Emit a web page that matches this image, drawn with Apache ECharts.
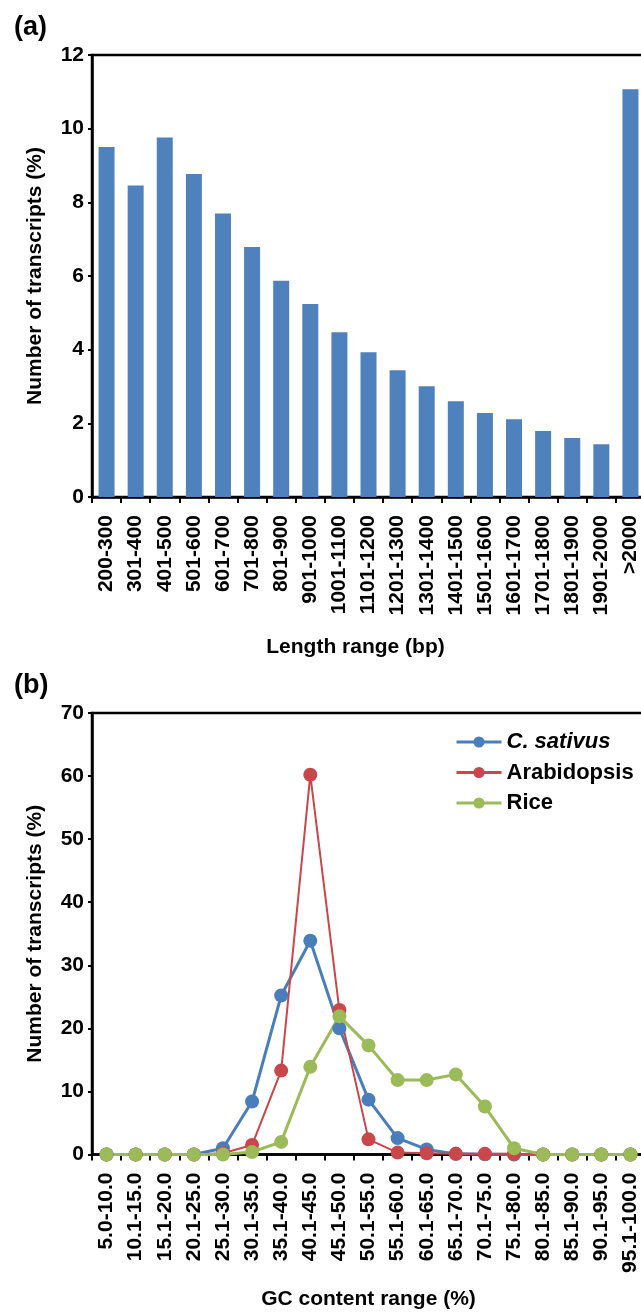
<!DOCTYPE html>
<html>
	<head>
		<meta charset="utf-8">
		<title></title>
		<style>
			html, body { margin: 0; padding: 0; background: #fff; overflow: hidden; }
			/* wider than the window on purpose: the plot's right edge is cut off like in the figure */
			#main { width: 660px; height: 1312px; }
		</style>
	</head>
	<body>
		<div id="main"></div>
		<script src="https://cdn.jsdelivr.net/npm/echarts@6/dist/echarts.min.js"></script>
		<script type="text/javascript">
			// (a) transcript length distribution
			var lengthCats = ['200-300', '301-400', '401-500', '501-600', '601-700', '701-800', '801-900', '901-1000',
				'1001-1100', '1101-1200', '1201-1300', '1301-1400', '1401-1500', '1501-1600', '1601-1700',
				'1701-1800', '1801-1900', '1901-2000', '>2000'];
			var lengthPct = [9.5, 8.46, 9.76, 8.77, 7.7, 6.79, 5.87, 5.24, 4.47, 3.93, 3.44, 3.01, 2.6, 2.28, 2.11, 1.79, 1.6, 1.43, 11.07];

			// (b) GC content distribution
			var gcCats = ['5.0-10.0', '10.1-15.0', '15.1-20.0', '20.1-25.0', '25.1-30.0', '30.1-35.0', '35.1-40.0',
				'40.1-45.0', '45.1-50.0', '50.1-55.0', '55.1-60.0', '60.1-65.0', '65.1-70.0', '70.1-75.0',
				'75.1-80.0', '80.1-85.0', '85.1-90.0', '90.1-95.0', '95.1-100.0'];
			var sativus = [0, 0, 0, 0, 1.0, 8.4, 25.2, 33.9, 20.0, 8.7, 2.6, 0.8, 0.1, 0.05, 0, 0, 0, 0, 0];
			var arabidopsis = [0, 0, 0, 0, 0.2, 1.5, 13.3, 60.2, 22.9, 2.4, 0.3, 0.2, 0.1, 0.1, 0.1, 0, 0, 0, 0];
			var rice = [0, 0, 0, 0, 0, 0.4, 2.0, 13.9, 21.9, 17.3, 11.8, 11.8, 12.7, 7.6, 1.0, 0, 0, 0, 0];

			var FONT = '"Liberation Sans", Arial, sans-serif';
			var tickFont = {fontFamily: FONT, fontWeight: 'bold', fontSize: 21, color: '#000'};
			var nameFont = {fontFamily: FONT, fontWeight: 'bold', fontSize: 21, color: '#000'};
			var axisLine = {show: true, lineStyle: {color: '#000', width: 2.5}};

			function catAxis(idx, cats, gap, pad) {
				return {
					type: 'category',
					gridIndex: idx,
					data: cats,
					boundaryGap: true,
					axisLine: axisLine,
					axisTick: {show: true, inside: false, length: 6, lineStyle: {color: '#000', width: 2}},
					axisLabel: Object.assign({rotate: 90, interval: 0, margin: 18}, tickFont),
					name: idx === 0 ? 'Length range (bp)' : 'GC content range (%)',
					nameLocation: 'middle',
					nameGap: gap,
					nameTextStyle: Object.assign({padding: pad}, nameFont)
				};
			}

			function valAxis(idx, max, interval) {
				return {
					type: 'value',
					gridIndex: idx,
					min: 0,
					max: max,
					interval: interval,
					splitLine: {show: false},
					axisLine: axisLine,
					axisTick: {show: true, inside: false, length: 4, lineStyle: {color: '#000', width: 2}},
					axisLabel: Object.assign({margin: 8}, tickFont),
					name: 'Number of transcripts (%)',
					nameLocation: 'middle',
					nameGap: 46,
					nameTextStyle: nameFont
				};
			}

			var myChart = echarts.init(document.getElementById('main'), null, {renderer: 'canvas'});
			var option = {
				backgroundColor: '#fff',
				animation: false,
				textStyle: {fontFamily: FONT},
				graphic: [
					{type: 'text', left: 14, top: 14, style: {text: '(a)', font: 'bold 27px ' + FONT, fill: '#000'}},
					{type: 'text', left: 14, top: 672, style: {text: '(b)', font: 'bold 27px ' + FONT, fill: '#000'}}
				],
				grid: [
					{left: 92, top: 55, width: 553, height: 442, show: true, borderColor: '#000', borderWidth: 2.5, containLabel: false},
					{left: 92, top: 713, width: 553, height: 441.5, show: true, borderColor: '#000', borderWidth: 2.5, containLabel: false}
				],
				xAxis: [
					catAxis(0, lengthCats, 140, [0, 26, 0, 0]),
					catAxis(1, gcCats, 134, [0, 0, 0, 0])
				],
				yAxis: [
					valAxis(0, 12, 2),
					valAxis(1, 70, 10)
				],
				legend: {
					orient: 'vertical',
					left: 455,
					top: 731,
					padding: 0,
					itemWidth: 45,
					itemHeight: 14,
					itemGap: 8.5,
					data: ['C. sativus', 'Arabidopsis', 'Rice'],
					lineStyle: {width: 3},
					formatter: function (name) {
						return name === 'C. sativus' ? '{i|' + name + '}' : name;
					},
					textStyle: {
						fontFamily: FONT, fontWeight: 'bold', fontSize: 22, lineHeight: 22, color: '#000',
						rich: {i: {fontFamily: FONT, fontWeight: 'bold', fontStyle: 'italic', fontSize: 22, lineHeight: 22, color: '#000'}}
					}
				},
				series: [
					{
						type: 'bar',
						xAxisIndex: 0,
						yAxisIndex: 0,
						data: lengthPct,
						barWidth: 16,
						itemStyle: {color: '#4F81BD'}
					},
					{
						name: 'C. sativus',
						type: 'line',
						xAxisIndex: 1,
						yAxisIndex: 1,
						data: sativus,
						symbol: 'circle',
						symbolSize: 14,
						lineStyle: {color: '#4A7EBB', width: 3},
						itemStyle: {color: '#4A7EBB'}
					},
					{
						name: 'Arabidopsis',
						type: 'line',
						xAxisIndex: 1,
						yAxisIndex: 1,
						data: arabidopsis,
						symbol: 'circle',
						symbolSize: 14,
						lineStyle: {color: '#C9464A', width: 2},
						itemStyle: {color: '#C9464A'}
					},
					{
						name: 'Rice',
						type: 'line',
						xAxisIndex: 1,
						yAxisIndex: 1,
						data: rice,
						symbol: 'circle',
						symbolSize: 14,
						lineStyle: {color: '#9BBB59', width: 3},
						itemStyle: {color: '#9BBB59'}
					}
				]
			};
			myChart.setOption(option);
		</script>
	</body>
</html>
